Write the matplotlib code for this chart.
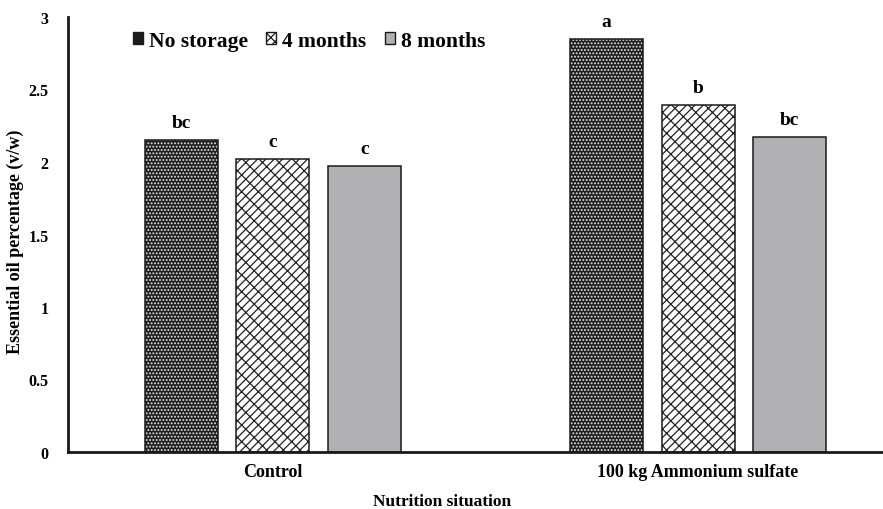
import matplotlib
matplotlib.use("Agg")
import matplotlib.pyplot as plt
import numpy as np
from matplotlib.patches import Patch

plt.rcParams['font.family'] = ['Liberation Serif', 'DejaVu Serif']
plt.rcParams['font.weight'] = 'bold'
plt.rcParams['hatch.linewidth'] = 0.9

categories = ["Control", "100 kg Ammonium sulfate"]
series_names = ["No storage", "4 months", "8 months"]
no_storage = [2.15, 2.85]
months_4 = [2.02, 2.39]
months_8 = [1.97, 2.17]
letters = [["bc", "a"], ["c", "b"], ["c", "bc"]]
yticks = [0, 0.5, 1, 1.5, 2, 2.5, 3]
ytick_labels = ["0", "0.5", "1", "1.5", "2", "2.5", "3"]

values = [no_storage, months_4, months_8]
# fill style per series: (face, hatch, hatch colour)
styles = [("#1e1e1e", ".....", "#e8e8e8"),
          ("white", "////\\\\", "#222222"),
          ("#b1b1b3", None, None)]

fig = plt.figure(figsize=(8.83, 5.10), dpi=100)
ax = fig.add_axes([68 / 883, 1 - 453 / 510, (883 - 68) / 883, 435 / 510])

x = np.arange(len(categories))
width = 0.172
offset = 0.215

for i, (vals, (fc, hatch, hc)) in enumerate(zip(values, styles)):
    pos = x + (i - 1) * offset
    if hatch:
        ax.bar(pos, vals, width, color=fc, hatch=hatch, edgecolor=hc, linewidth=0, zorder=2)
    else:
        ax.bar(pos, vals, width, color=fc, linewidth=0, zorder=2)
    ax.bar(pos, vals, width, fill=False, edgecolor="#1a1a1a", linewidth=1.1, zorder=3)
    for p, v, lab in zip(pos, vals, letters[i]):
        ax.text(p, v + 0.09, lab, ha="center", va="baseline", fontsize=14, fontweight="bold")

ax.set_xlim(-0.482, 1.435)
ax.set_ylim(0, 3)
ax.set_yticks(yticks)
ax.set_yticklabels(ytick_labels, fontsize=11.5, fontweight="bold")
ax.set_xticks(x)
ax.set_xticklabels(categories, fontsize=13, fontweight="bold")
ax.tick_params(length=0)
ax.tick_params(axis="x", pad=8)
ax.tick_params(axis="y", pad=14)
for s in ["top", "right"]:
    ax.spines[s].set_visible(False)
for s in ["left", "bottom"]:
    ax.spines[s].set_linewidth(2)
    ax.spines[s].set_color("#1a1a1a")

fig.text(15 / 883, 1 - 242 / 510, "Essential oil percentage (v/w)", rotation=90,
         ha="center", va="center", fontsize=13, fontweight="bold")
fig.text(442 / 883, 1 - 502 / 510, "Nutrition situation", ha="center", va="center",
         fontsize=12.5, fontweight="bold")

handles = []
for name, (fc, hatch, hc) in zip(series_names, styles):
    if hatch:
        handles.append(Patch(facecolor=fc, hatch=hatch, edgecolor="#1a1a1a", label=name))
    else:
        handles.append(Patch(facecolor=fc, edgecolor="#1a1a1a", label=name))
leg = ax.legend(handles=handles, loc="center left",
                bbox_to_anchor=(54 / 815, (453 - 42) / 435), ncol=3,
                frameon=False, prop={"size": 15.5, "weight": "bold"}, borderpad=0,
                handlelength=0.47, handleheight=0.47, handletextpad=0.28,
                columnspacing=0.85)

fig.savefig("out.png", dpi=100)
